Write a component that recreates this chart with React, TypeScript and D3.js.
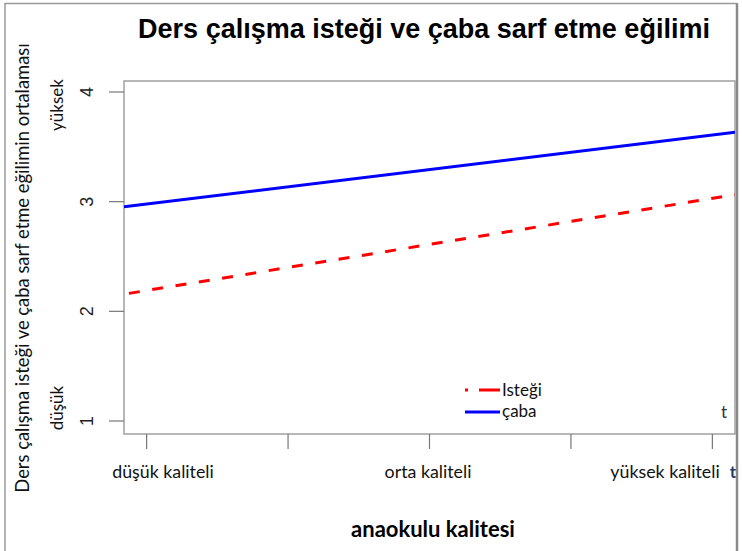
import React from "react";
import * as d3 from "d3";

const categories = ["düşük kaliteli", "orta kaliteli", "yüksek kaliteli"];
const categoryX = [0, 1, 2];
const istegiValues = [2.19, 2.61, 3.03];
const cabaValues = [2.98, 3.29, 3.61];
const yTicks = [1, 2, 3, 4];
const xTicks = [0, 0.5, 1, 1.5, 2];
const seriesNames = ["Isteği", "çaba"];
const yLevelLabels = ["düşük", "yüksek"];

const W = 742;
const H = 551;
const left = 124, right = 735, top = 81, bottom = 434;

function fit(xs: number[], ys: number[]) {
  const mx = d3.mean(xs)!;
  const my = d3.mean(ys)!;
  let num = 0, den = 0;
  xs.forEach((x, i) => { num += (x - mx) * (ys[i] - my); den += (x - mx) * (x - mx); });
  const b = num / den;
  const a = my - b * mx;
  return (x: number) => a + b * x;
}

export default function App() {
  const x = d3.scaleLinear().domain([-0.08, 2.08]).range([left, right]);
  const yy = d3.scaleLinear().domain([1, 4]).range([421, 92]);
  const fI = fit(categoryX, istegiValues);
  const fC = fit(categoryX, cabaValues);
  const [d0, d1] = x.domain();
  const seg = (f: (v: number) => number) =>
    d3.line<number>().x((d) => x(d)).y((d) => yy(f(d)))([d0, d1]) || "";
  const humanist = "Lato, 'Open Sans', sans-serif";
  const arial = "'Liberation Sans', Arial, sans-serif";
  const catLabelX = [163, 428, 665];
  return (
    <svg width={W} height={H} style={{ position: "absolute", left: 0, top: 0, background: "#fff" }}>
      {/* outer frame */}
      <path d={`M5,${H} V3.5 H737 V${H}`} fill="none" stroke="#9a9a9a" strokeWidth={1.5} />
      <line x1={737} y1={3.5} x2={737} y2={H} stroke="#8a8a8a" strokeWidth={2.5} />
      <text x={424} y={38} textAnchor="middle" fontFamily={arial} fontWeight="bold" fontSize={27} fill="#000">
        Ders çalışma isteği ve çaba sarf etme eğilimi
      </text>
      {/* plot box */}
      <rect x={left} y={top} width={right - left} height={bottom - top} fill="none" stroke="#a0a0a0" strokeWidth={1.5} />
      {/* y axis ticks */}
      {yTicks.map((t) => (
        <g key={t}>
          <line x1={109} x2={left} y1={yy(t)} y2={yy(t)} stroke="#777" strokeWidth={1.2} />
          <text transform={`translate(93,${yy(t)}) rotate(-90)`} textAnchor="middle" fontFamily={arial} fontSize={18} fill="#222">
            {t}
          </text>
        </g>
      ))}
      {/* x axis ticks */}
      {xTicks.map((t) => (
        <line key={t} x1={x(t)} x2={x(t)} y1={bottom} y2={bottom + 15} stroke="#777" strokeWidth={1.2} />
      ))}
      {categories.map((c, i) => (
        <text key={c} x={catLabelX[i]} y={478} textAnchor="middle" fontFamily={humanist} fontSize={17.8} fill="#111">
          {c}
        </text>
      ))}
      <text x={733} y={478} textAnchor="middle" fontFamily={humanist} fontSize={17} fontWeight="bold" fill="#1f3a6e">t</text>
      <text x={724} y={418} textAnchor="middle" fontFamily={humanist} fontSize={17} fill="#333">t</text>
      {/* series */}
      <defs>
        <clipPath id="plotclip">
          <rect x={left} y={top} width={right - left} height={bottom - top} />
        </clipPath>
      </defs>
      <g clipPath="url(#plotclip)">
        <path d={seg(fC)} fill="none" stroke="#0000ff" strokeWidth={3} />
        <path d={seg(fI)} fill="none" stroke="#ff0000" strokeWidth={3} strokeDasharray="11 12.6" strokeDashoffset={-5} />
      </g>
      {/* legend */}
      <line x1={465} x2={500} y1={390} y2={390} stroke="#ff0000" strokeWidth={3} strokeDasharray="3 11 22" />
      <text x={502} y={396} fontFamily={humanist} fontSize={17} fill="#111">{seriesNames[0]}</text>
      <line x1={465} x2={500} y1={412} y2={412} stroke="#0000ff" strokeWidth={3} />
      <text x={502} y={417} fontFamily={humanist} fontSize={17} fill="#111">{seriesNames[1]}</text>
      {/* y labels */}
      <text transform="translate(63,105) rotate(-90)" textAnchor="middle" fontFamily={humanist} fontSize={17} fill="#111">{yLevelLabels[1]}</text>
      <text transform="translate(63,408) rotate(-90)" textAnchor="middle" fontFamily={humanist} fontSize={17} fill="#111">{yLevelLabels[0]}</text>
      <text transform="translate(29,268) rotate(-90)" textAnchor="middle" fontFamily={humanist} fontSize={18.4} fill="#111">
        Ders çalışma isteği ve çaba sarf etme eğilimin ortalaması
      </text>
      <text x={433} y={537} textAnchor="middle" fontFamily={humanist} fontWeight="bold" fontSize={22} fill="#000">
        anaokulu kalitesi
      </text>
    </svg>
  );
}
